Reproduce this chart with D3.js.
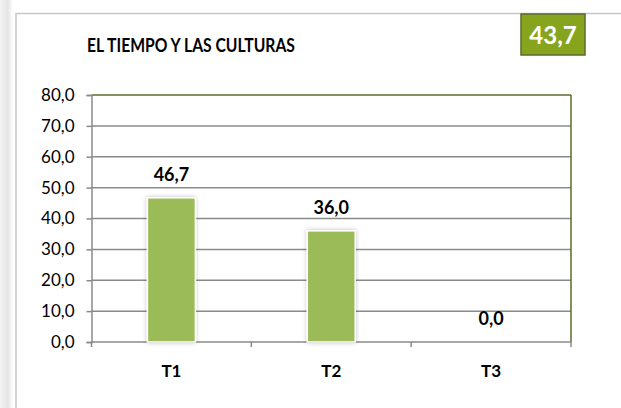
<!DOCTYPE html>
<html>
<head>
<meta charset="utf-8">
<script src="https://cdn.jsdelivr.net/npm/d3@7"></script>
<style>
  body { margin: 0; background: #fff; }
  svg { display: block; font-family: Lato, "Open Sans", sans-serif; }
</style>
</head>
<body>
<script>
// chart data
const categories = ["T1", "T2", "T3"];
const values = [46.7, 36.0, 0.0];
const yTicks = [0, 10, 20, 30, 40, 50, 60, 70, 80];
const chartTitle = "EL TIEMPO Y LAS CULTURAS";
const average = 43.7;

const W = 621, H = 408;
const fmt = d => d3.format(".1f")(d).replace(".", ",");

let svg = d3.select("body").append("svg").attr("width", W).attr("height", H);

let defs = svg.append("defs");
let grad = defs.append("linearGradient").attr("id", "leftShade");
grad.append("stop").attr("offset", "0%").attr("stop-color", "#f4f4f4");
grad.append("stop").attr("offset", "60%").attr("stop-color", "#e4e4e4");
grad.append("stop").attr("offset", "100%").attr("stop-color", "#ffffff");
let shadow = defs.append("filter").attr("id", "barShadow")
    .attr("x", "-30%").attr("y", "-10%").attr("width", "160%").attr("height", "120%");
shadow.append("feDropShadow").attr("dx", 0).attr("dy", 0).attr("stdDeviation", 2)
    .attr("flood-color", "#000").attr("flood-opacity", 0.25);

// page edge + chart frame
svg.append("rect").attr("x", 0).attr("y", 0).attr("width", 13).attr("height", H)
    .attr("fill", "url(#leftShade)");
svg.append("rect").attr("x", 16).attr("y", 13.5).attr("width", W).attr("height", H)
    .attr("fill", "#fff").attr("stroke", "#c6c6c6").attr("stroke-width", 1.5);

// scales
const x0 = 91.5, x1 = 571, yTop = 95, yBot = 342;
let x = d3.scaleBand().domain(categories).range([x0, x1])
    .paddingInner(0.7).paddingOuter(0.35);
let y = d3.scaleLinear().domain([0, 80]).range([yBot, yTop]);
const step = (x1 - x0) / categories.length;

// gridlines
svg.append("g").selectAll("line").data(yTicks.filter(t => t > 0 && t < 80)).join("line")
    .attr("x1", x0).attr("x2", x1)
    .attr("y1", d => y(d)).attr("y2", d => y(d))
    .attr("stroke", "#8a8a8a").attr("stroke-width", 1.5);

// top and right plot border
svg.append("line").attr("x1", x0).attr("x2", x1).attr("y1", y(80)).attr("y2", y(80))
    .attr("stroke", "#5a6b2e").attr("stroke-width", 1.5);
svg.append("line").attr("x1", x1).attr("x2", x1).attr("y1", y(80)).attr("y2", yBot)
    .attr("stroke", "#5a6b2e").attr("stroke-width", 1.5);

// y axis
let yAxis = d3.axisLeft(y).tickValues(yTicks).tickFormat(fmt).tickSize(5).tickPadding(12);
let gy = svg.append("g").attr("transform", `translate(${x0},0)`).call(yAxis);
gy.select(".domain").attr("stroke", "#8a8a8a").attr("stroke-width", 1.5);
gy.selectAll(".tick line").attr("stroke", "#8a8a8a").attr("stroke-width", 1.5);
gy.selectAll(".tick text").attr("font-size", 17).attr("fill", "#000")
    .attr("font-family", "Lato, sans-serif");

// x axis line + ticks at category boundaries
svg.append("line").attr("x1", x0).attr("x2", x1).attr("y1", yBot).attr("y2", yBot)
    .attr("stroke", "#8a8a8a").attr("stroke-width", 1.5);
svg.append("g").selectAll("line").data(d3.range(categories.length + 1)).join("line")
    .attr("x1", i => x0 + i * step).attr("x2", i => x0 + i * step)
    .attr("y1", yBot).attr("y2", yBot + 5)
    .attr("stroke", "#8a8a8a").attr("stroke-width", 1.5);
svg.append("g").selectAll("text").data(categories).join("text")
    .attr("x", d => x(d) + x.bandwidth() / 2).attr("y", 377)
    .attr("text-anchor", "middle").attr("font-size", 17).attr("font-weight", "bold")
    .text(d => d);

// bars
svg.append("g").selectAll("rect").data(values.map((v, i) => ({ c: categories[i], v })))
    .join("rect")
    .filter(d => d.v > 0)
    .attr("x", d => x(d.c)).attr("width", x.bandwidth())
    .attr("y", d => y(d.v)).attr("height", d => yBot - y(d.v))
    .attr("fill", "#9bbb59").attr("stroke", "#fff").attr("stroke-width", 1.5)
    .attr("filter", "url(#barShadow)");

// value labels
svg.append("g").selectAll("text").data(values).join("text")
    .attr("x", (d, i) => x(categories[i]) + x.bandwidth() / 2)
    .attr("y", d => y(d) - 17)
    .attr("text-anchor", "middle").attr("font-size", 18).attr("font-weight", "bold")
    .text(d => fmt(d));

// title
svg.append("text").attr("x", 87).attr("y", 52)
    .attr("font-size", 18.5).attr("font-weight", "bold")
    .attr("textLength", 208).attr("lengthAdjust", "spacingAndGlyphs")
    .text(chartTitle);

// average badge
svg.append("rect").attr("x", 521).attr("y", 14).attr("width", 64).attr("height", 41)
    .attr("fill", "#87a41f").attr("stroke", "#5a6b2e").attr("stroke-width", 1.5);
svg.append("text").attr("x", 553).attr("y", 44)
    .attr("text-anchor", "middle").attr("font-size", 24).attr("font-weight", "bold")
    .attr("fill", "#fff").text(fmt(average));
</script>
</body>
</html>
